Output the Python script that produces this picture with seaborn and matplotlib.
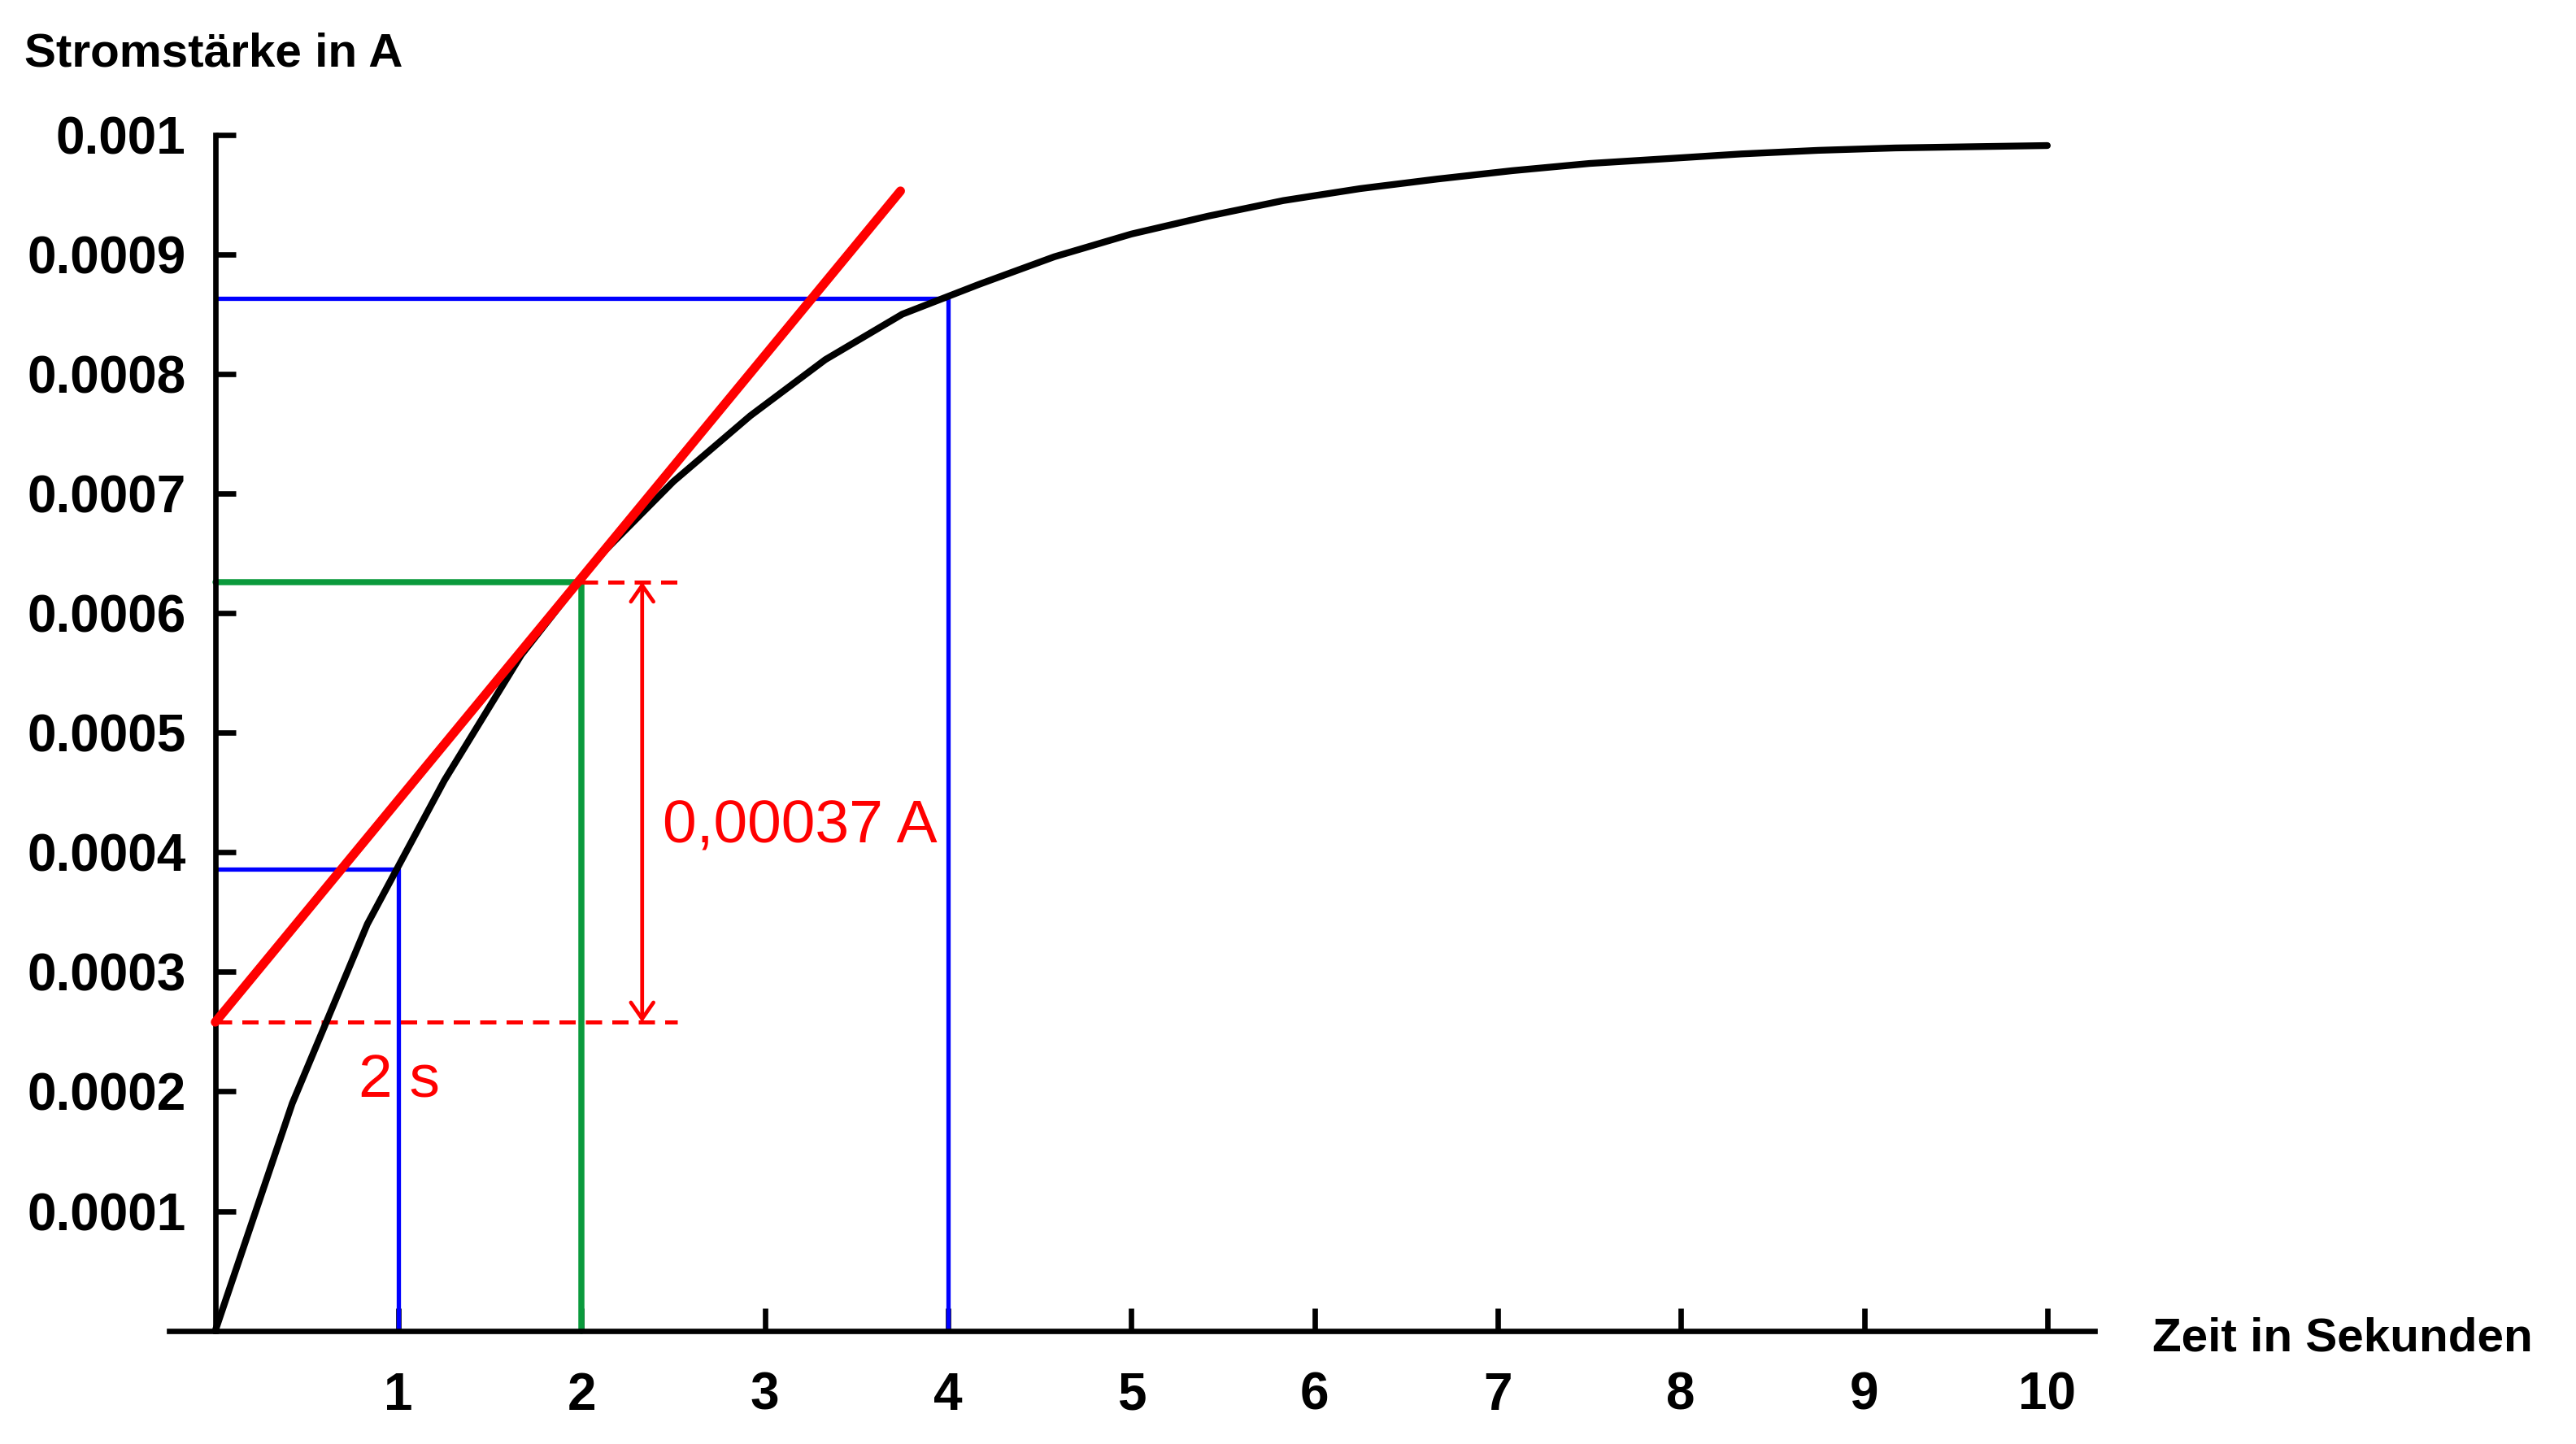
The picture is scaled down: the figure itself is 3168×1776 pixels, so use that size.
import matplotlib
matplotlib.use("Agg")
from matplotlib import pyplot as plt
import seaborn as sns

# charging current (kinks every ~0.42 s)
zeit = [0, 0.42, 0.83, 1.25, 1.67, 2.08, 2.5, 2.92, 3.33, 3.75, 4.17, 4.58,
        5.0, 5.42, 5.83, 6.25, 6.67, 7.08, 7.5, 7.92, 8.33, 8.75, 9.17, 9.58, 10.0]
strom = [0, 0.00019, 0.00034, 0.00046, 0.000565, 0.000645, 0.00071, 0.000765,
         0.000812, 0.00085, 0.000875, 0.000898, 0.000917, 0.000932, 0.000945,
         0.000955, 0.000963, 0.00097, 0.000976, 0.00098, 0.000984, 0.000987,
         0.000989, 0.00099, 0.000991]

# tangent at t = 2 s
tangente_t = [0, 3.74]
tangente_i = [0.000258, 0.000953]

# read-off helper lines
blau_t = [1, 4]
blau_i = [0.000386, 0.000863]
gruen_t = 2
gruen_i = 0.000626
delta_oben = 0.000626
delta_unten = 0.000258
dashed_end = 2.52
pfeil_t = 2.33

x_ticks = [1, 2, 3, 4, 5, 6, 7, 8, 9, 10]
y_ticks = [0.0001, 0.0002, 0.0003, 0.0004, 0.0005, 0.0006, 0.0007, 0.0008, 0.0009, 0.001]
y_tick_labels = ['0.0001', '0.0002', '0.0003', '0.0004', '0.0005',
                 '0.0006', '0.0007', '0.0008', '0.0009', '0.001']

sns.set_theme(style='white')
plt.rcParams['font.family'] = ['Liberation Sans', 'DejaVu Sans']

fig = plt.figure(figsize=(15.84, 8.88), dpi=200)
ax = fig.add_axes([0.0658, 0.0785, 0.7503, 0.853])

ROT = '#ff0000'
BLAU = '#0000ff'
GRUEN = '#0a9a3c'

# helper lines
for t, i in zip(blau_t, blau_i):
    ax.plot([0, t, t], [i, i, 0], color=BLAU, lw=1.9, zorder=2, clip_on=False)
ax.plot([0, gruen_t, gruen_t], [gruen_i, gruen_i, 0], color=GRUEN, lw=2.7,
        zorder=2, clip_on=False)
ax.plot([gruen_t, dashed_end], [delta_oben, delta_oben], color=ROT, lw=1.8,
        dashes=(4, 2.5), zorder=3)
ax.plot([0, dashed_end], [delta_unten, delta_unten], color=ROT, lw=1.8,
        dashes=(4, 2.5), zorder=3)

# curve and tangent
sns.lineplot(x=zeit, y=strom, ax=ax, color='black', lw=3.0, zorder=4,
             estimator=None, sort=False)
sns.lineplot(x=tangente_t, y=tangente_i, ax=ax, color=ROT, lw=4.0, zorder=5,
             estimator=None, sort=False)
for line in ax.lines:
    line.set_clip_on(False)

ax.annotate('', xy=(pfeil_t, delta_oben), xytext=(pfeil_t, delta_unten),
            arrowprops=dict(arrowstyle='<->,head_length=0.36,head_width=0.25',
                            color=ROT, lw=1.7, shrinkA=0, shrinkB=0,
                            mutation_scale=20))
ax.text(2.44, 0.000408, '0,00037 A', color=ROT, fontsize=27, va='baseline')
ax.text(0.78, 0.000195, '2 s', color=ROT, fontsize=27, va='baseline')

ax.set_xlim(-0.25, 10.3)
ax.set_ylim(0, 0.00103)
ax.spines['top'].set_visible(False)
ax.spines['right'].set_visible(False)
ax.spines['left'].set_position(('data', 0))
ax.spines['left'].set_bounds(0, 0.001)
ax.spines['bottom'].set_bounds(-0.25, 10.26)
for s in ['left', 'bottom']:
    ax.spines[s].set_linewidth(2.4)
    ax.spines[s].set_color('black')

ax.set_xticks(x_ticks)
ax.set_xticklabels([str(v) for v in x_ticks], fontsize=23, fontweight='bold')
ax.set_yticks(y_ticks)
ax.set_yticklabels(y_tick_labels, fontsize=23, fontweight='bold')
ax.tick_params(axis='x', direction='in', length=10, width=2.4, pad=18,
               colors='black', bottom=True)
ax.tick_params(axis='y', direction='in', length=9, width=2.4, pad=13,
               colors='black', left=True)
ax.grid(False)

fig.text(0.0096, 0.9625, 'Stromstärke in A', fontsize=21, fontweight='bold',
         ha='left', va='center', color='black')
fig.text(0.8355, 0.0728, 'Zeit in Sekunden', fontsize=21, fontweight='bold',
         ha='left', va='center', color='black')

fig.savefig('out.png', dpi=200, facecolor='white')
